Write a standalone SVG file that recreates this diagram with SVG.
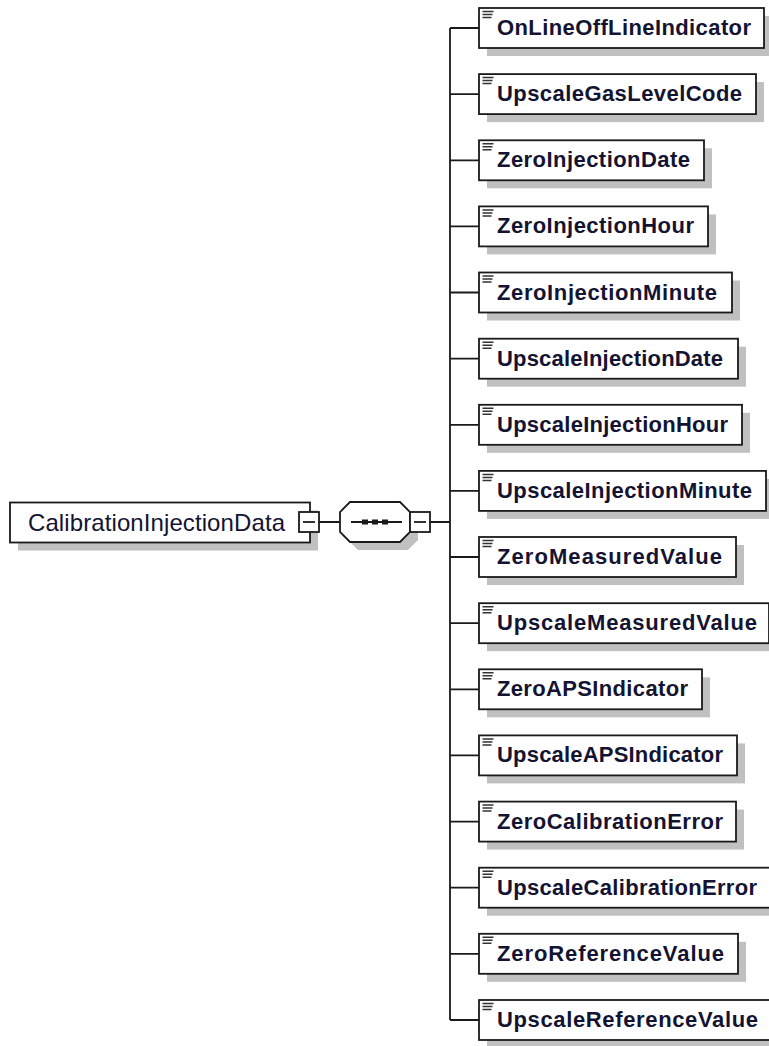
<svg xmlns="http://www.w3.org/2000/svg" width="769" height="1046" viewBox="0 0 769 1046">
<style>
.sh{fill:#c0c0c0;stroke:none}
.bx{fill:#fff;stroke:#1a1a1a;stroke-width:1.8}
.ln{fill:none;stroke:#1a1a1a;stroke-width:1.8}
.ic{fill:none;stroke:#333;stroke-width:1.5}
.t{font-family:"Liberation Sans",Arial,sans-serif;font-size:22px;font-weight:bold;fill:#141432}
.tr{font-family:"Liberation Sans",Arial,sans-serif;font-size:24px;fill:#141432}
</style>
<rect width="769" height="1046" fill="#fff"/>
<g id="connectors">
<path class="ln" d="M450,28V1020 M450,28H479 M450,94.1H479 M450,160.3H479 M450,226.4H479 M450,292.5H479 M450,358.7H479 M450,424.8H479 M450,490.9H479 M450,557H479 M450,623.2H479 M450,689.3H479 M450,755.4H479 M450,821.6H479 M450,887.7H479 M450,953.8H479 M450,1020H479 M319,522H340 M430,522H450"/>
</g>
<g id="root">
<rect class="sh" x="18" y="510.5" width="300" height="40"/>
<rect class="bx" x="10" y="502.5" width="300" height="40"/>
<text class="tr" x="28" y="531" textLength="257">CalibrationInjectionData</text>
<rect class="bx" x="299" y="512" width="20" height="20"/>
<path class="ln" d="M303,522H315"/>
</g>
<g id="sequence">
<polygon class="sh" points="358,510 408,510 418,520 418,540 408,550 358,550 348,540 348,520"/>
<polygon class="bx" points="350,502 400,502 410,512 410,532 400,542 350,542 340,532 340,512"/>
<path class="ln" d="M351,522H402"/>
<rect x="362" y="519.5" width="6" height="5" fill="#1a1a1a"/>
<rect x="372" y="519.5" width="6" height="5" fill="#1a1a1a"/>
<rect x="382" y="519.5" width="6" height="5" fill="#1a1a1a"/>
<rect class="bx" x="410" y="512" width="20" height="20"/>
<path class="ln" d="M414,522H426"/>
</g>
<defs>
<path id="icon" class="ic" d="M3.5,3.5h11M3.5,6.5h10M3.5,9.5h9"/>
</defs>
<g id="n1" transform="translate(479,8)"><rect class="sh" x="8" y="8" width="285" height="40"/><rect class="bx" width="285" height="40"/><use href="#icon"/><text class="t" x="18" y="27" textLength="254">OnLineOffLineIndicator</text></g>
<g id="n2" transform="translate(479,74.1)"><rect class="sh" x="8" y="8" width="277" height="40"/><rect class="bx" width="277" height="40"/><use href="#icon"/><text class="t" x="18" y="27" textLength="245">UpscaleGasLevelCode</text></g>
<g id="n3" transform="translate(479,140.3)"><rect class="sh" x="8" y="8" width="225" height="40"/><rect class="bx" width="225" height="40"/><use href="#icon"/><text class="t" x="18" y="27" textLength="193">ZeroInjectionDate</text></g>
<g id="n4" transform="translate(479,206.4)"><rect class="sh" x="8" y="8" width="229" height="40"/><rect class="bx" width="229" height="40"/><use href="#icon"/><text class="t" x="18" y="27" textLength="197">ZeroInjectionHour</text></g>
<g id="n5" transform="translate(479,272.5)"><rect class="sh" x="8" y="8" width="253" height="40"/><rect class="bx" width="253" height="40"/><use href="#icon"/><text class="t" x="18" y="27" textLength="220">ZeroInjectionMinute</text></g>
<g id="n6" transform="translate(479,338.7)"><rect class="sh" x="8" y="8" width="259" height="40"/><rect class="bx" width="259" height="40"/><use href="#icon"/><text class="t" x="18" y="27" textLength="226">UpscaleInjectionDate</text></g>
<g id="n7" transform="translate(479,404.8)"><rect class="sh" x="8" y="8" width="263" height="40"/><rect class="bx" width="263" height="40"/><use href="#icon"/><text class="t" x="18" y="27" textLength="231">UpscaleInjectionHour</text></g>
<g id="n8" transform="translate(479,470.9)"><rect class="sh" x="8" y="8" width="287" height="40"/><rect class="bx" width="287" height="40"/><use href="#icon"/><text class="t" x="18" y="27" textLength="255">UpscaleInjectionMinute</text></g>
<g id="n9" transform="translate(479,537)"><rect class="sh" x="8" y="8" width="257" height="40"/><rect class="bx" width="257" height="40"/><use href="#icon"/><text class="t" x="18" y="27" textLength="225">ZeroMeasuredValue</text></g>
<g id="n10" transform="translate(479,603.2)"><rect class="sh" x="8" y="8" width="290" height="40"/><rect class="bx" width="290" height="40"/><use href="#icon"/><text class="t" x="18" y="27" textLength="260">UpscaleMeasuredValue</text></g>
<g id="n11" transform="translate(479,669.3)"><rect class="sh" x="8" y="8" width="223" height="40"/><rect class="bx" width="223" height="40"/><use href="#icon"/><text class="t" x="18" y="27" textLength="191">ZeroAPSIndicator</text></g>
<g id="n12" transform="translate(479,735.4)"><rect class="sh" x="8" y="8" width="258" height="40"/><rect class="bx" width="258" height="40"/><use href="#icon"/><text class="t" x="18" y="27" textLength="226">UpscaleAPSIndicator</text></g>
<g id="n13" transform="translate(479,801.6)"><rect class="sh" x="8" y="8" width="257" height="40"/><rect class="bx" width="257" height="40"/><use href="#icon"/><text class="t" x="18" y="27" textLength="226">ZeroCalibrationError</text></g>
<g id="n14" transform="translate(479,867.7)"><rect class="sh" x="8" y="8" width="291" height="40"/><rect class="bx" width="291" height="40"/><use href="#icon"/><text class="t" x="18" y="27" textLength="260">UpscaleCalibrationError</text></g>
<g id="n15" transform="translate(479,933.8)"><rect class="sh" x="8" y="8" width="259" height="40"/><rect class="bx" width="259" height="40"/><use href="#icon"/><text class="t" x="18" y="27" textLength="227">ZeroReferenceValue</text></g>
<g id="n16" transform="translate(479,1000)"><rect class="sh" x="8" y="8" width="292" height="40"/><rect class="bx" width="292" height="40"/><use href="#icon"/><text class="t" x="18" y="27" textLength="261">UpscaleReferenceValue</text></g>
</svg>
